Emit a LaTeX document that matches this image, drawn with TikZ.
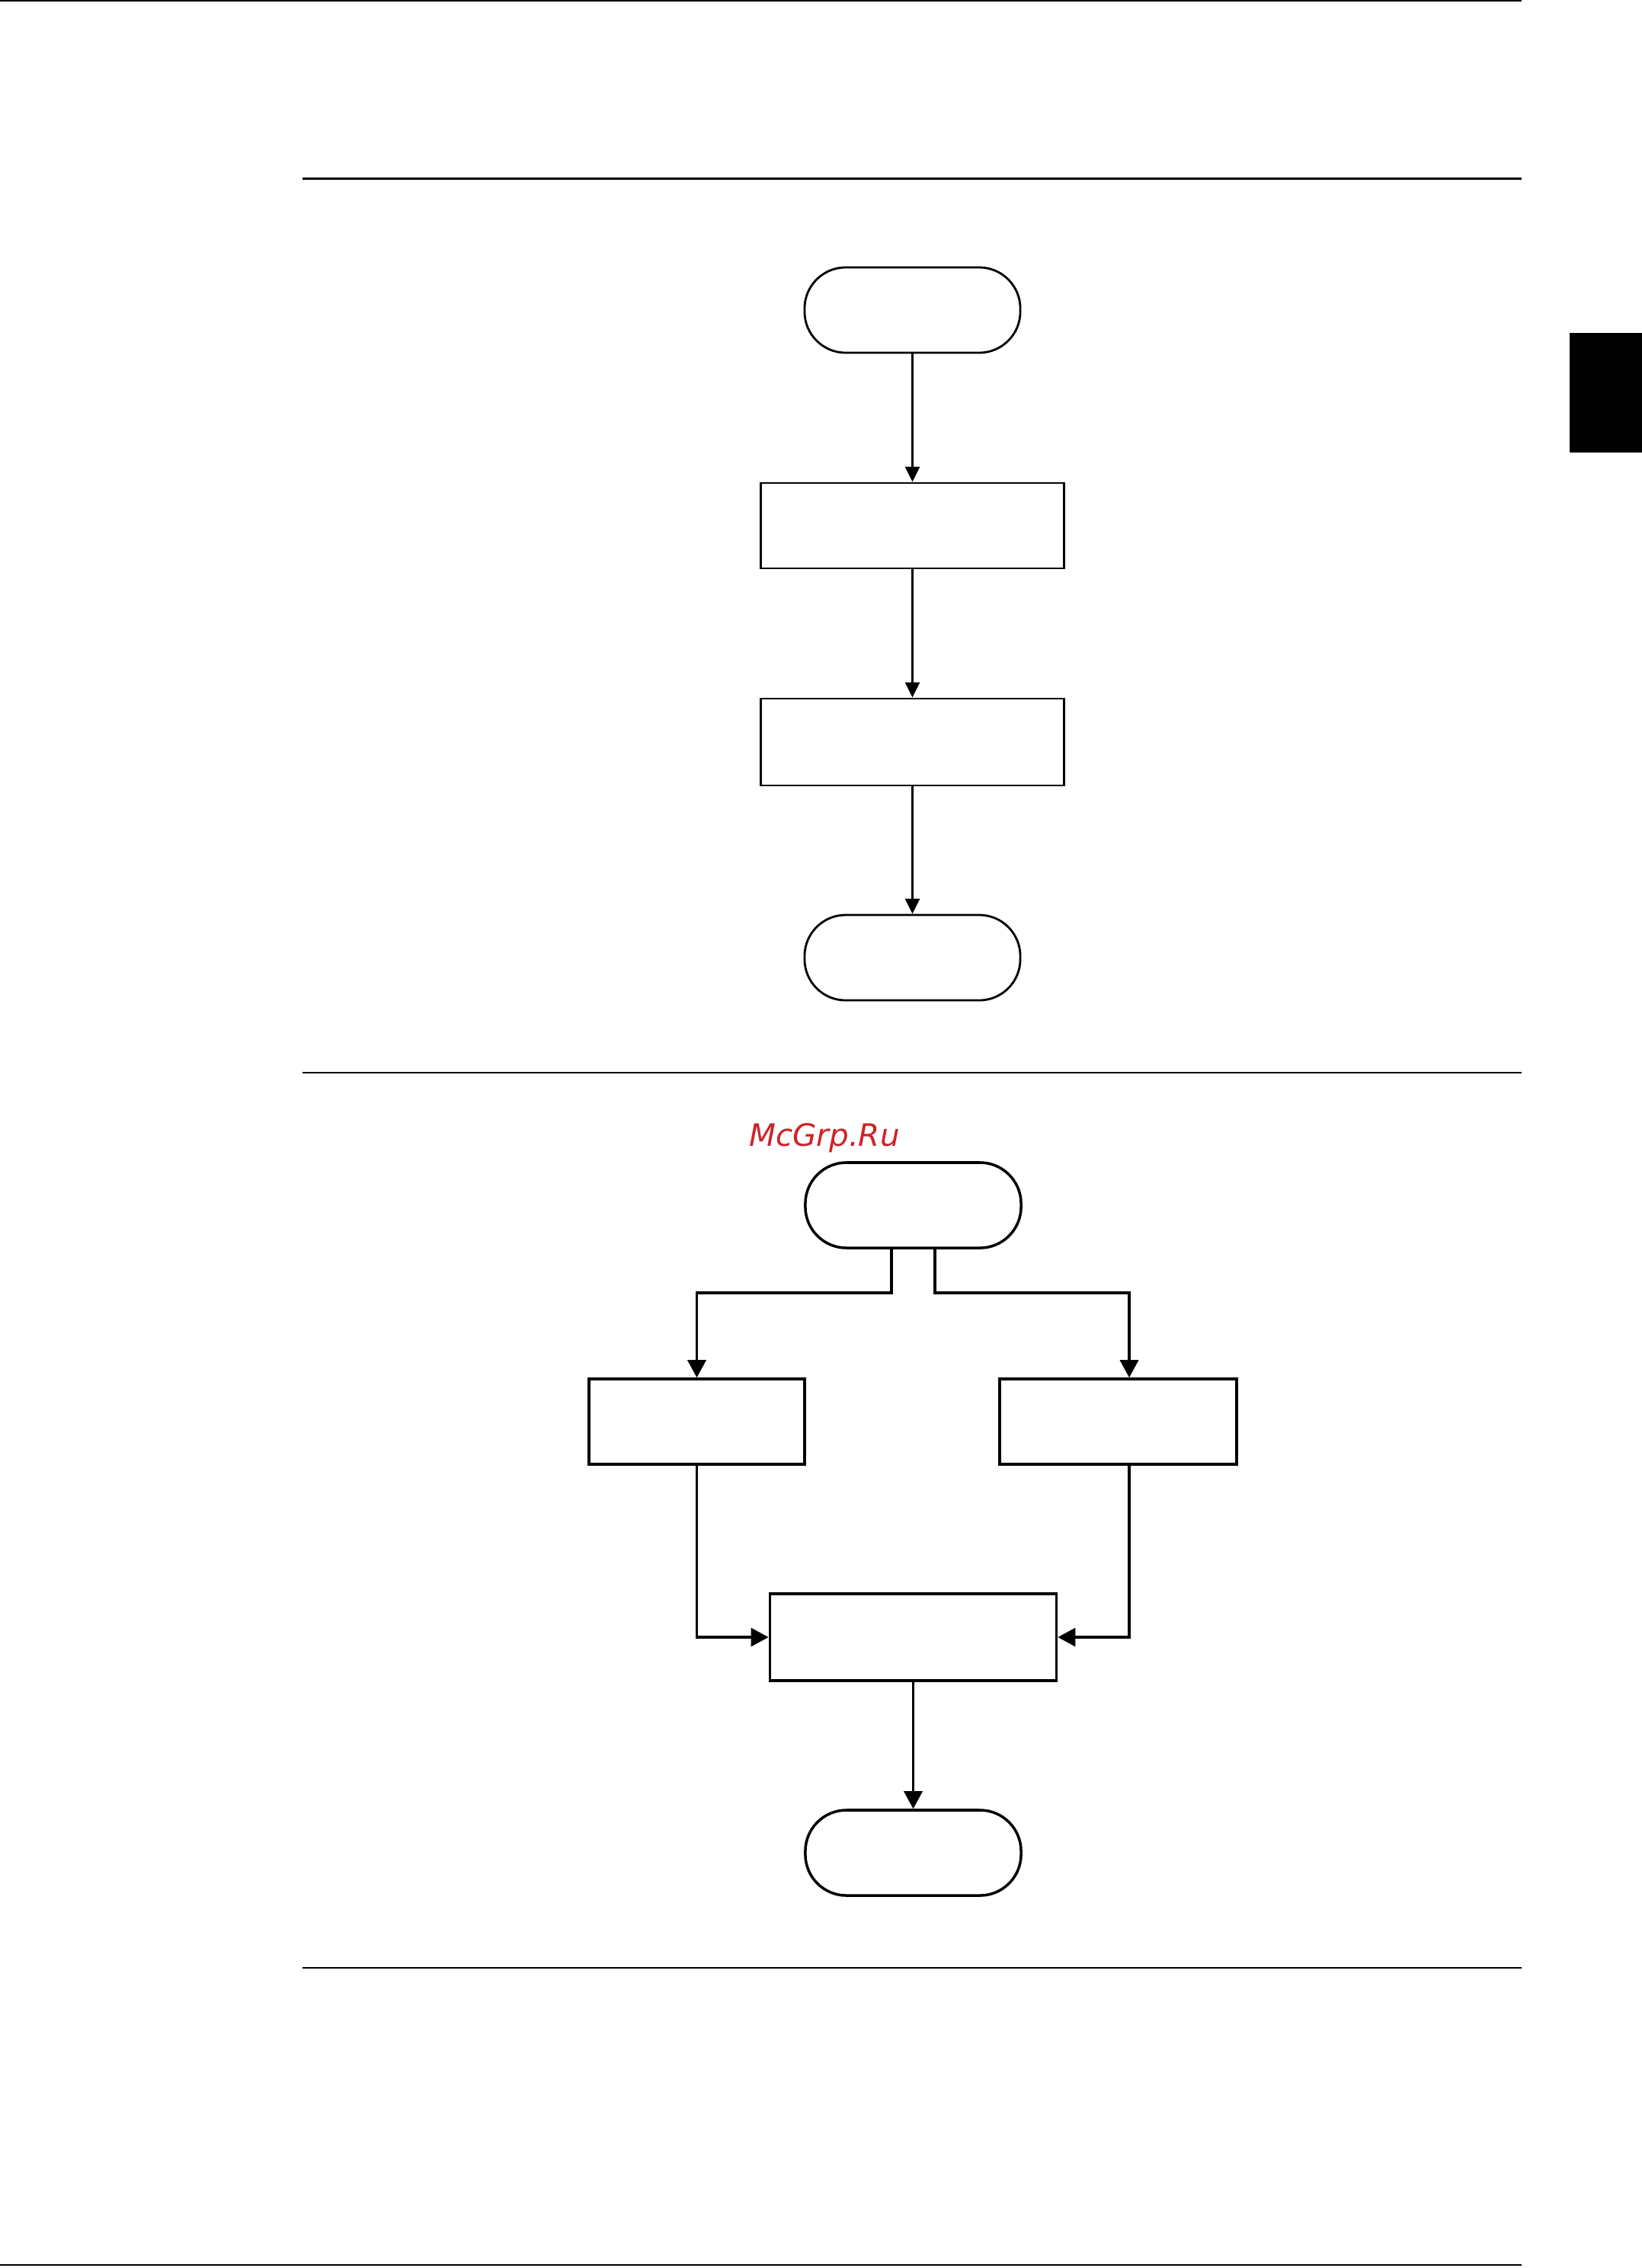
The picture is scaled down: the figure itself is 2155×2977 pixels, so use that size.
\documentclass[tikz,border=0pt]{standalone}
\usepackage{fontspec}
\usepackage{tikz}
\usetikzlibrary{arrows.meta}
\usetikzlibrary{positioning,calc}
\usepackage{xcolor}
\newfontfamily\wmfont{DejaVu Sans}
\definecolor{wmred}{RGB}{205,35,40}
\tikzset{
    terminal/.style={
        draw,
        rounded corners=0.54cm,
        minimum width=2.83cm,
        minimum height=1.12cm,
        inner sep=0pt
    },
    procbox/.style={
        draw,
        rectangle,
        minimum width=3.97cm,
        minimum height=1.12cm,
        inner sep=0pt
    },
    flow/.style={
        draw,
        -{Triangle[length=2mm, width=1.9mm]},
        line width=0.75pt
    },
    flowb/.style={
        draw,
        -{Triangle[length=2.3mm, width=2.4mm]},
        line width=1pt
    },
    pagerule/.style={line width=0.6pt}
}

\begin{document}
\begin{tikzpicture}[x=0.01cm, y=-0.01cm]
  \useasboundingbox (0,0) rectangle (2155,2977);

  % Page rules and tab
  \draw[pagerule] (0,1) -- (1997,1);
  \draw[pagerule] (397,234.5) -- (1997,234.5);
  \draw[pagerule] (397,1408) -- (1997,1408);
  \draw[pagerule] (397,2583) -- (1997,2583);
  \draw[pagerule] (0,2973) -- (1997,2973);
  \fill (2060,437) rectangle (2155,594);

  % First chart
  \node[terminal, line width=0.8pt] (t1) at (1197.5,407) {};
  \node[procbox, line width=0.8pt] (b1) at (1197.5,690) {};
  \node[procbox, line width=0.8pt, minimum height=1.14cm] (b2) at (1197.5,974) {};
  \node[terminal, line width=0.8pt] (t2) at (1197.5,1257) {};

  \draw[flow] (t1) -- (b1);
  \draw[flow] (b1) -- (b2);
  \draw[flow] (b2) -- (t2);

  % Second chart
  \node[text=wmred, font=\wmfont\itshape\fontsize{11.5}{13}\selectfont] (wm) at (1082,1494) {McGrp.Ru};

  \node[terminal, line width=1pt] (s2) at (1198.5,1582) {};
  \node[procbox, line width=1pt, minimum width=2.83cm] (l1) at (914.5,1866) {};
  \node[procbox, line width=1pt, minimum width=3.11cm] (r1) at (1467.5,1866) {};
  \node[procbox, line width=1pt, minimum width=3.76cm, minimum height=1.14cm] (m) at (1198.5,2149) {};
  \node[terminal, line width=1pt] (e2) at (1198.5,2432) {};

  \draw[flowb] ([xshift=-0.285cm]s2.south) -- ++(0,57) -| (l1.north);
  \draw[flowb] ([xshift=0.285cm]s2.south) -- ++(0,57) -| ([xshift=0.145cm]r1.north);
  \draw[flowb] (l1.south) |- (m.west);
  \draw[flowb] ([xshift=0.145cm]r1.south) |- (m.east);
  \draw[flowb] (m) -- (e2);
\end{tikzpicture}
\end{document}
